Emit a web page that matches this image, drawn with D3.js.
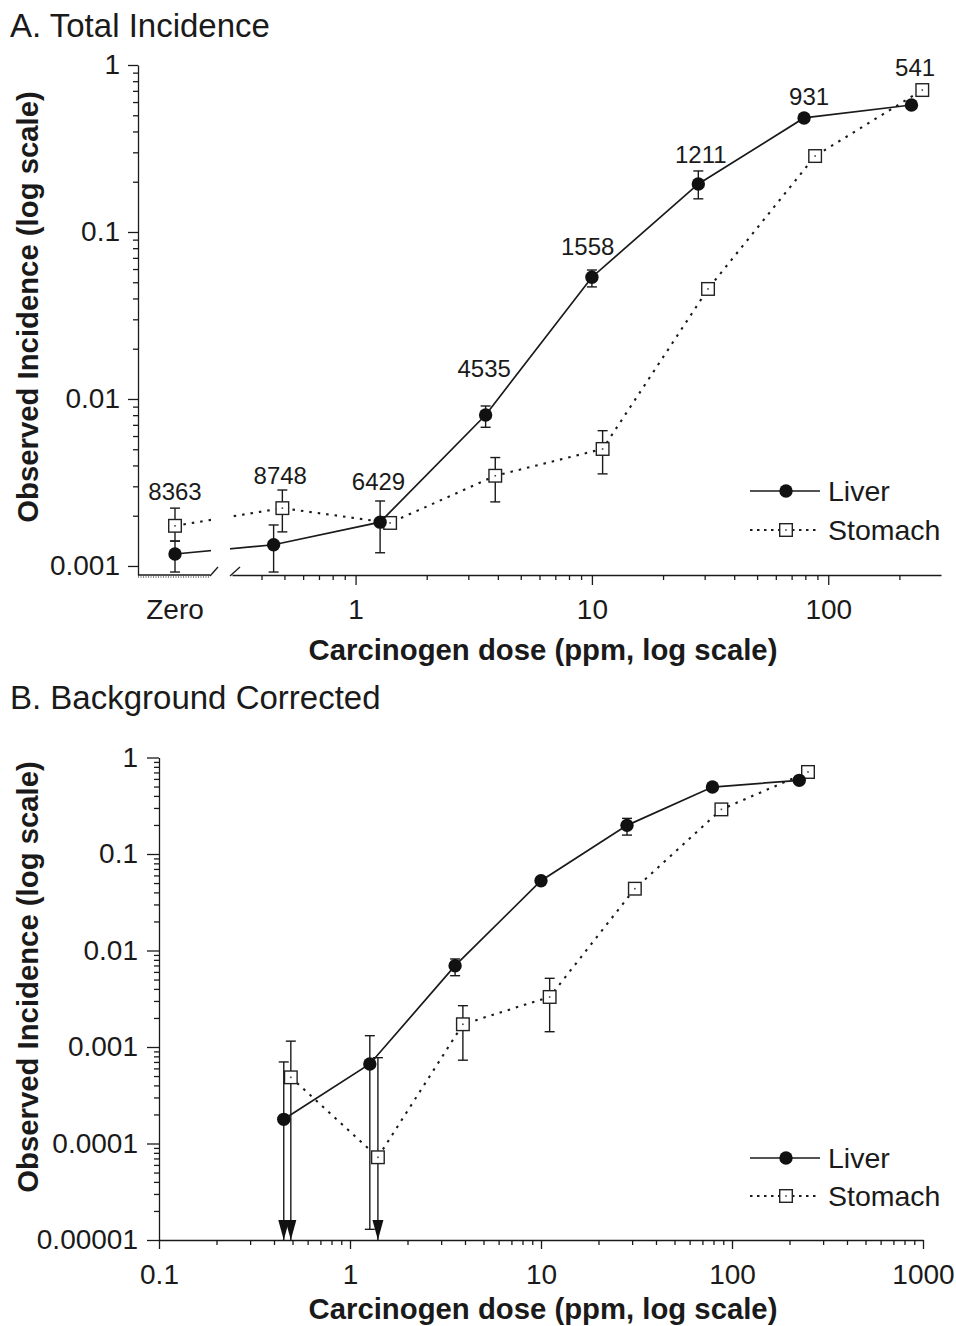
<!DOCTYPE html>
<html>
<head>
<meta charset="utf-8">
<script src="https://cdn.jsdelivr.net/npm/d3@7"></script>
<style>
  body { margin: 0; background: #fff; }
  text { font-family: Arial, "Liberation Sans", sans-serif; fill: #1a1a1a; }
</style>
</head>
<body>
<svg id="chart"></svg>
<script>
const width = 956, height = 1326;

// Doses in ppm; 0 is the untreated control group ("Zero")
const liverDose = [0, 0.45, 1.27, 3.55, 10, 28.2, 79, 225];
const stomachDose = [0, 0.49, 1.4, 3.9, 11.1, 31, 88, 250];

// A. Total incidence (null = no error bar drawn)
const liverTotal = [0.00118, 0.00134, 0.00183, 0.00802, 0.0536, 0.194, 0.482, 0.576];
const liverTotalLo = [0.00092, 0.00092, 0.0012, 0.00677, 0.0469, 0.158, null, null];
const liverTotalHi = [0.00141, 0.00176, 0.00245, 0.00908, 0.0592, 0.232, null, null];
const stomachTotal = [0.00174, 0.00222, 0.00181, 0.00347, 0.00502, 0.0456, 0.285, 0.708];
const stomachTotalLo = [0.00141, 0.0016, null, 0.00242, 0.00356, null, null, null];
const stomachTotalHi = [0.00222, 0.00285, null, 0.00446, 0.00646, null, null, null];

// Animals per dose group, written above the points
const groupN = ["8363", "8748", "6429", "4535", "1558", "1211", "931", "541"];
const groupNDose = [0, 0.48, 1.25, 3.5, 9.6, 28.9, 83, 233];
const groupNAt = [0.00277, 0.0035, 0.00318, 0.0151, 0.0813, 0.289, 0.643, 0.96];

// B. Background corrected, treated groups only (lower 0 = runs off the axis, arrow)
const liverBg = [0.000178, 0.000667, 0.00696, 0.0529, 0.198, 0.494, 0.58];
const liverBgLo = [0, 0.0000129, 0.00548, null, 0.157, null, null];
const liverBgHi = [0.0007, 0.00131, 0.00817, null, 0.234, null, null];
const stomachBg = [0.000485, 0.000072, 0.00172, 0.0033, 0.0437, 0.29, 0.708];
const stomachBgLo = [0, 0, 0.00073, 0.00144, null, null, null];
const stomachBgHi = [0.00115, 0.000775, 0.00268, 0.00515, null, null, null];

// Axis ticks
const ticksA_y = [0.001, 0.01, 0.1, 1];
const ticksA_x = [1, 10, 100];
const ticksB_y = [0.00001, 0.0001, 0.001, 0.01, 0.1, 1];
const ticksB_x = [0.1, 1, 10, 100, 1000];

const dotted = "2.5,6";

const svg = d3.select("#chart")
    .attr("width", width)
    .attr("height", height)
    .attr("viewBox", [0, 0, width, height]);

function minorTicks(lo, hi) {
    const out = [];
    for (let e = Math.floor(Math.log10(lo)); e <= Math.ceil(Math.log10(hi)); e++) {
        for (let k = 2; k <= 9; k++) {
            const v = k * Math.pow(10, e);
            if (v > lo * 1.02 && v < hi * 0.98) out.push(v);
        }
    }
    return out;
}

function styleAxis(sel, fontSize) {
    sel.selectAll("path, line").attr("stroke", "#1a1a1a").attr("stroke-width", 1.3);
    sel.selectAll("text").attr("font-size", fontSize).attr("fill", "#1a1a1a")
        .attr("font-family", "Arial, 'Liberation Sans', sans-serif");
}

function drawYAxis(g, y, x, majors, fmt, majorLen, pad) {
    const [d0, d1] = y.domain();
    const ax = g.append("g").attr("transform", `translate(${x},0)`)
        .call(d3.axisLeft(y).tickValues(majors).tickFormat(fmt)
            .tickSize(majorLen).tickSizeOuter(0).tickPadding(pad));
    styleAxis(ax, 28);
    const mn = g.append("g").attr("transform", `translate(${x},0)`)
        .call(d3.axisLeft(y).tickValues(minorTicks(Math.min(d0, d1), Math.max(d0, d1)))
            .tickFormat("").tickSize(5));
    mn.select(".domain").remove();
    styleAxis(mn, 28);
}

function drawXAxis(g, xs, yPos, majors, fmt, majorLen, pad) {
    const [d0, d1] = xs.domain();
    const ax = g.append("g").attr("transform", `translate(0,${yPos})`)
        .call(d3.axisBottom(xs).tickValues(majors).tickFormat(fmt)
            .tickSize(majorLen).tickSizeOuter(0).tickPadding(pad));
    styleAxis(ax, 28);
    const mn = g.append("g").attr("transform", `translate(0,${yPos})`)
        .call(d3.axisBottom(xs).tickValues(minorTicks(d0, d1)).tickFormat("").tickSize(5));
    mn.select(".domain").remove();
    styleAxis(mn, 28);
}

function circleMark(g, cx, cy) {
    g.append("circle").attr("cx", cx).attr("cy", cy).attr("r", 6.7).attr("fill", "#111");
}

function squareMark(g, cx, cy) {
    g.append("rect").attr("x", cx - 6.3).attr("y", cy - 6.3).attr("width", 12.6).attr("height", 12.6)
        .attr("fill", "#fff").attr("stroke", "#222").attr("stroke-width", 1.4);
    g.append("rect").attr("x", cx - 0.8).attr("y", cy - 0.8).attr("width", 1.6).attr("height", 1.6)
        .attr("fill", "#444");
}

function errorBar(g, cx, yTop, yBot, arrow) {
    g.append("line").attr("x1", cx).attr("x2", cx).attr("y1", yTop).attr("y2", yBot)
        .attr("stroke", "#1a1a1a").attr("stroke-width", 1.4);
    g.append("line").attr("x1", cx - 5).attr("x2", cx + 5).attr("y1", yTop).attr("y2", yTop)
        .attr("stroke", "#1a1a1a").attr("stroke-width", 1.4);
    if (arrow) {
        g.append("path")
            .attr("d", `M${cx - 5.5},${yBot - 20}L${cx + 5.5},${yBot - 20}L${cx},${yBot}Z`)
            .attr("fill", "#111");
    } else {
        g.append("line").attr("x1", cx - 5).attr("x2", cx + 5).attr("y1", yBot).attr("y2", yBot)
            .attr("stroke", "#1a1a1a").attr("stroke-width", 1.4);
    }
}

function drawSeries(g, pts, dashed, mark, yBottom) {
    const line = d3.line().x(d => d.x).y(d => d.y);
    g.append("path").datum(pts).attr("d", line)
        .attr("fill", "none").attr("stroke", "#1a1a1a")
        .attr("stroke-width", dashed ? 2.1 : 1.7)
        .attr("stroke-dasharray", dashed ? dotted : null)
        .attr("clip-path", g.attr("data-clip"));
    pts.forEach(d => {
        if (d.hi != null) errorBar(g, d.x, d.hi, d.lo === "arrow" ? yBottom : d.lo, d.lo === "arrow");
    });
    pts.forEach(d => mark(g, d.x, d.y));
}

function legend(g, x, y1, y2) {
    g.append("line").attr("x1", x).attr("x2", x + 70).attr("y1", y1).attr("y2", y1)
        .attr("stroke", "#1a1a1a").attr("stroke-width", 1.7);
    circleMark(g, x + 36, y1);
    g.append("text").attr("x", x + 78).attr("y", y1).attr("dy", "0.35em")
        .attr("font-size", 28.5).text("Liver");
    g.append("line").attr("x1", x).attr("x2", x + 70).attr("y1", y2).attr("y2", y2)
        .attr("stroke", "#1a1a1a").attr("stroke-width", 1.8).attr("stroke-dasharray", "2.5,4.5");
    squareMark(g, x + 36, y2);
    g.append("text").attr("x", x + 78).attr("y", y2).attr("dy", "0.35em")
        .attr("font-size", 28.5).text("Stomach");
}

// ---------------- Panel A ----------------
const gA = svg.append("g");
const axisXA = 138, zeroX = 175, baseA = 575;
const xA = d3.scaleLog().domain([0.3, 300]).range([232, 941]);
const yA = d3.scaleLog().domain([0.000883, 1]).range([baseA, 65]);
const xAof = d => d === 0 ? zeroX : xA(d);

gA.append("text").attr("x", 10).attr("y", 37).attr("font-size", 33).text("A. Total Incidence");

// clip away the gap of the broken x axis
const clipA = svg.append("defs").append("clipPath").attr("id", "clipA");
clipA.append("rect").attr("x", 0).attr("y", 0).attr("width", 211).attr("height", 700);
clipA.append("rect").attr("x", 230).attr("y", 0).attr("width", 726).attr("height", 700);
gA.attr("data-clip", "url(#clipA)");

drawYAxis(gA, yA, axisXA, ticksA_y, d3.format("~g"), 10, 8);
drawXAxis(gA, xA, baseA, ticksA_x, d3.format("~g"), 10, 14);

// zero segment of the x axis plus break marks
gA.append("line").attr("x1", axisXA).attr("x2", 210).attr("y1", baseA).attr("y2", baseA)
    .attr("stroke", "#1a1a1a").attr("stroke-width", 1.3);
gA.append("line").attr("x1", axisXA).attr("x2", 209).attr("y1", baseA + 2).attr("y2", baseA + 2)
    .attr("stroke", "#1a1a1a").attr("stroke-width", 1).attr("stroke-dasharray", "1,1.5");
[[210, 218], [230, 240]].forEach(([a, b]) => {
    gA.append("line").attr("x1", a).attr("x2", b).attr("y1", baseA + 1).attr("y2", baseA - 8)
        .attr("stroke", "#1a1a1a").attr("stroke-width", 1.3);
});
gA.append("text").attr("x", zeroX).attr("y", baseA + 24).attr("dy", "0.71em")
    .attr("text-anchor", "middle").attr("font-size", 28).text("Zero");

const ptsA = (dose, v, lo, hi) => dose.map((d, i) => ({
    x: xAof(d), y: yA(v[i]),
    lo: lo[i] == null ? null : yA(lo[i]),
    hi: hi[i] == null ? null : yA(hi[i])
}));
drawSeries(gA, ptsA(stomachDose, stomachTotal, stomachTotalLo, stomachTotalHi), true, squareMark, baseA);
drawSeries(gA, ptsA(liverDose, liverTotal, liverTotalLo, liverTotalHi), false, circleMark, baseA);

gA.selectAll(".nlabel").data(groupN).enter().append("text")
    .attr("class", "nlabel")
    .attr("x", (d, i) => xAof(groupNDose[i]))
    .attr("y", (d, i) => yA(groupNAt[i]))
    .attr("dy", "0.35em").attr("text-anchor", "middle").attr("font-size", 24)
    .text(d => d);

legend(gA, 750, 491, 530);

gA.append("text").attr("x", 543).attr("y", 650).attr("dy", "0.35em").attr("text-anchor", "middle")
    .attr("font-size", 29.3).attr("font-weight", "bold").text("Carcinogen dose (ppm, log scale)");
gA.append("text").attr("transform", "translate(28,307) rotate(-90)").attr("dy", "0.35em")
    .attr("text-anchor", "middle").attr("font-size", 29.3).attr("font-weight", "bold")
    .text("Observed Incidence (log scale)");

// ---------------- Panel B ----------------
const gB = svg.append("g");
const baseB = 1240;
const xB = d3.scaleLog().domain([0.1, 1000]).range([159, 923]);
const yB = d3.scaleLog().domain([0.00001, 1]).range([baseB, 757.5]);

gB.append("text").attr("x", 10).attr("y", 709).attr("font-size", 33).text("B. Background Corrected");

drawYAxis(gB, yB, 159, ticksB_y, d3.format("~g"), 12, 9);
drawXAxis(gB, xB, baseB, ticksB_x, d3.format("~g"), 9, 15);
gB.selectAll("text").filter(function () { return this.textContent === "1e-5"; }).text("0.00001");

const ptsB = (dose, v, lo, hi) => dose.slice(1).map((d, i) => ({
    x: xB(d), y: yB(v[i]),
    lo: lo[i] == null ? null : (lo[i] === 0 ? "arrow" : yB(lo[i])),
    hi: hi[i] == null ? null : yB(hi[i])
}));
drawSeries(gB, ptsB(stomachDose, stomachBg, stomachBgLo, stomachBgHi), true, squareMark, baseB);
drawSeries(gB, ptsB(liverDose, liverBg, liverBgLo, liverBgHi), false, circleMark, baseB);

legend(gB, 750, 1158, 1196);

gB.append("text").attr("x", 543).attr("y", 1309).attr("dy", "0.35em").attr("text-anchor", "middle")
    .attr("font-size", 29.3).attr("font-weight", "bold").text("Carcinogen dose (ppm, log scale)");
gB.append("text").attr("transform", "translate(28,977) rotate(-90)").attr("dy", "0.35em")
    .attr("text-anchor", "middle").attr("font-size", 29.3).attr("font-weight", "bold")
    .text("Observed Incidence (log scale)");
</script>
</body>
</html>
